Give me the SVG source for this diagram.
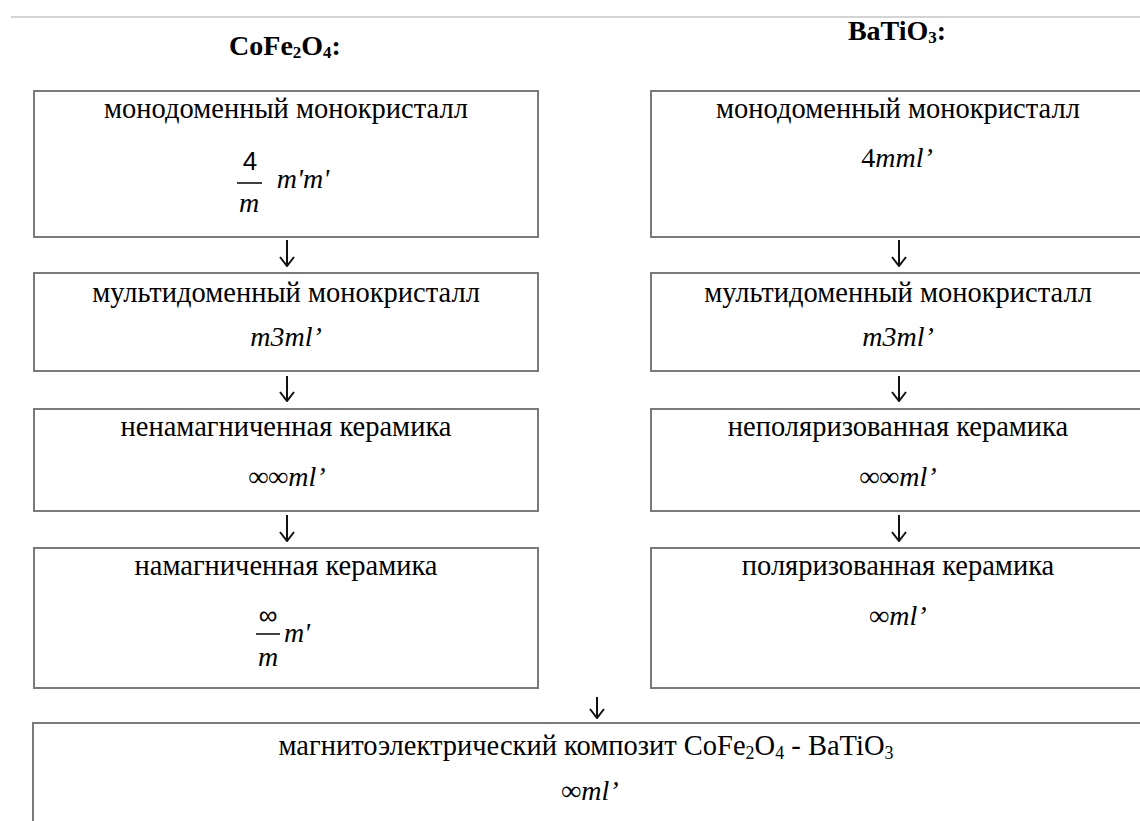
<svg xmlns="http://www.w3.org/2000/svg" width="1140" height="821" viewBox="0 0 1140 821">
<style>
.box{fill:#fff;stroke:#7a7a7a;stroke-width:2}
.t{font-family:"Liberation Serif","Times New Roman",serif;font-size:28.5px;fill:#000;text-anchor:middle}
.f{font-family:"Liberation Serif","Times New Roman",serif;font-size:28px;font-style:italic;fill:#000;text-anchor:middle}
.fs{font-family:"Liberation Sans",Arial,sans-serif;font-size:26px;fill:#000;text-anchor:middle}
.h{font-family:"Liberation Serif","Times New Roman",serif;font-size:28px;font-weight:bold;fill:#000;text-anchor:middle}
.fl{stroke:#000;stroke-width:1.5}
.ar{stroke:#111;stroke-width:2;fill:none}
</style>
<defs>
<marker id="ah" viewBox="0 0 12 16" refX="11" refY="8" markerWidth="12" markerHeight="16" markerUnits="userSpaceOnUse" orient="auto">
<path d="M2,1 L11,8 L2,15" fill="none" stroke="#111" stroke-width="2"/>
</marker>
</defs>
<rect width="1140" height="821" fill="#fff"/>
<line x1="11" y1="17" x2="1140" y2="17" stroke="#d4d4d4" stroke-width="2"/>

<g id="title-cofe">
<text class="h" x="285" y="55">CoFe<tspan font-size="17" dy="3">2</tspan><tspan dy="-3">O</tspan><tspan font-size="17" dy="3">4</tspan><tspan dy="-3">:</tspan></text>
</g>
<g id="title-bati">
<text class="h" x="897" y="40">BaTiO<tspan font-size="17" dy="3">3</tspan><tspan dy="-3">:</tspan></text>
</g>

<g id="L1">
<rect class="box" x="34" y="91" width="504" height="146"/>
<text class="t" x="286" y="118">монодоменный монокристалл</text>
<text class="fs" x="250" y="170">4</text>
<line class="fl" x1="237" y1="183" x2="262" y2="183"/>
<text class="f" x="249" y="212">m</text>
<text class="f" x="303" y="188">m'm'</text>
</g>
<g id="L2">
<rect class="box" x="34" y="273" width="504" height="98"/>
<text class="t" x="286" y="302">мультидоменный монокристалл</text>
<text class="f" x="286" y="346">m3ml’</text>
</g>
<g id="L3">
<rect class="box" x="34" y="409" width="504" height="102"/>
<text class="t" x="286" y="436">ненамагниченная керамика</text>
<text class="f" x="287" y="486">∞∞ml’</text>
</g>
<g id="L4">
<rect class="box" x="34" y="548" width="504" height="140"/>
<text class="t" x="286" y="575">намагниченная керамика</text>
<text class="fs" x="268" y="624" font-size="24">∞</text>
<line class="fl" x1="256" y1="634" x2="280" y2="634"/>
<text class="f" x="268" y="666">m</text>
<text class="f" x="297" y="642">m'</text>
</g>

<g id="R1">
<rect class="box" x="651" y="91" width="494" height="146"/>
<text class="t" x="898" y="118">монодоменный монокристалл</text>
<text class="f" x="897" y="167"><tspan font-style="normal">4</tspan>mml’</text>
</g>
<g id="R2">
<rect class="box" x="651" y="273" width="494" height="98"/>
<text class="t" x="898" y="302">мультидоменный монокристалл</text>
<text class="f" x="898" y="346">m3ml’</text>
</g>
<g id="R3">
<rect class="box" x="651" y="409" width="494" height="102"/>
<text class="t" x="898" y="436">неполяризованная керамика</text>
<text class="f" x="898" y="486">∞∞ml’</text>
</g>
<g id="R4">
<rect class="box" x="651" y="548" width="494" height="140"/>
<text class="t" x="898" y="575">поляризованная керамика</text>
<text class="f" x="898" y="625">∞ml’</text>
</g>

<g id="B">
<rect class="box" x="33" y="723" width="1130" height="120"/>
<text class="t" x="586" y="755">магнитоэлектрический композит CoFe<tspan font-size="18" dy="4">2</tspan><tspan dy="-4">O</tspan><tspan font-size="18" dy="4">4</tspan><tspan dy="-4"> - BaTiO</tspan><tspan font-size="18" dy="4">3</tspan></text>
<text class="f" x="590" y="800">∞ml’</text>
</g>

<g id="connectors">
<line class="ar" x1="287" y1="240" x2="287" y2="266" marker-end="url(#ah)"/>
<line class="ar" x1="287" y1="376" x2="287" y2="401" marker-end="url(#ah)"/>
<line class="ar" x1="287" y1="515" x2="287" y2="541" marker-end="url(#ah)"/>
<line class="ar" x1="899" y1="240" x2="899" y2="266" marker-end="url(#ah)"/>
<line class="ar" x1="899" y1="376" x2="899" y2="401" marker-end="url(#ah)"/>
<line class="ar" x1="899" y1="515" x2="899" y2="541" marker-end="url(#ah)"/>
<line class="ar" x1="597" y1="697" x2="597" y2="718" marker-end="url(#ah)"/>
</g>
</svg>
